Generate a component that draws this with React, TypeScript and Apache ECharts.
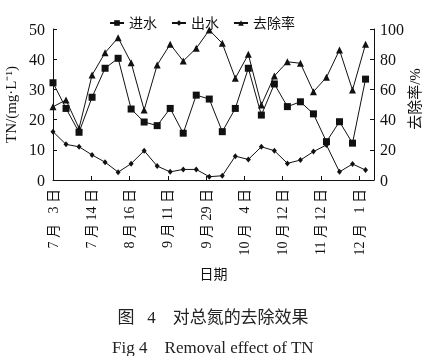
import React, { useEffect, useRef } from "react";
import * as echarts from "echarts";

const tickLabels = [
  "7 月 \u20073 日",
  "7 月 14 日",
  "8 月 16 日",
  "9 月 11 日",
  "9 月 29 日",
  "10 月 \u20074 日",
  "10 月 12 日",
  "11 月 12 日",
  "12 月 \u20071 日",
];

const influent = [
  32.2, 23.7, 15.8, 27.4, 37.0, 40.3, 23.5, 19.2, 18.0, 23.7, 15.5, 28.1, 26.8,
  16.0, 23.7, 37.0, 21.5, 31.8, 24.3, 25.9, 21.9, 12.7, 19.3, 12.2, 33.4,
];
const effluent = [
  16.0, 11.8, 11.0, 8.3, 5.9, 2.6, 5.4, 9.7, 4.6, 2.7, 3.5, 3.5, 1.1, 1.4, 7.9,
  6.8, 11.0, 9.7, 5.5, 6.6, 9.4, 11.6, 2.7, 5.3, 3.3,
];
const removal = [
  48.5, 53.0, 34.2, 69.5, 84.3, 94.2, 77.7, 46.4, 76.2, 89.9, 78.8, 87.2, 99.3,
  90.5, 67.4, 83.2, 49.7, 68.9, 78.3, 77.3, 58.5, 68.0, 86.1, 59.6, 89.9,
];

const TICK_STEP = 2.94;
const FONT = "'Liberation Serif', 'Noto Sans CJK SC', serif";

export default function App() {
  const ref = useRef<HTMLDivElement>(null);
  useEffect(() => {
    if (!ref.current) return;
    const chart = echarts.init(ref.current, null, { renderer: "svg" });
    const toPairs = (arr: number[]) => arr.map((v, i) => [i, v]);
    const lineStyle = { color: "#111", width: 1 };
    chart.setOption({
      animation: false,
      textStyle: { fontFamily: FONT, color: "#111" },
      legend: {
        left: 104,
        top: 11,
        itemWidth: 14,
        itemHeight: 7,
        itemGap: 14,
        textStyle: { fontFamily: FONT, fontSize: 14, color: "#111" },
        data: ["进水", "出水", "去除率"],
      },
      grid: {
        left: 53,
        right: 52,
        top: 29,
        bottom: 176,
        containLabel: false,
        outerBoundsMode: "none",
      },
      xAxis: {
        type: "value",
        min: 0,
        max: 24.65,
        interval: TICK_STEP,
        name: "日期",
        nameLocation: "middle",
        nameGap: 87,
        nameTextStyle: { fontFamily: FONT, fontSize: 14, color: "#111" },
        axisLine: { show: true, lineStyle: { color: "#111", width: 1 } },
        axisTick: { show: true, inside: true, length: 4, lineStyle: { color: "#111" } },
        splitLine: { show: false },
        axisLabel: {
          rotate: 90,
          margin: 9,
          fontFamily: FONT,
          fontSize: 14,
          color: "#111",
          showMaxLabel: false,
          formatter: (v: number) => {
            const k = Math.round(v / TICK_STEP);
            if (Math.abs(v - k * TICK_STEP) < 0.01 && k >= 0 && k < tickLabels.length) return tickLabels[k];
            return "";
          },
        },
      },
      yAxis: [
        {
          type: "value",
          min: 0,
          max: 50,
          interval: 10,
          name: "TN/(mg·L⁻¹)",
          nameLocation: "middle",
          nameRotate: 90,
          nameGap: 32,
          nameTextStyle: { fontFamily: FONT, fontSize: 15, color: "#111" },
          axisLine: { show: true, lineStyle: { color: "#111", width: 1 } },
          axisTick: { show: true, inside: true, length: 4, lineStyle: { color: "#111" } },
          splitLine: { show: false },
          axisLabel: { margin: 8, fontFamily: FONT, fontSize: 16, color: "#111" },
        },
        {
          type: "value",
          min: 0,
          max: 100,
          interval: 20,
          axisLine: { show: true, lineStyle: { color: "#111", width: 1 } },
          axisTick: { show: true, inside: true, length: 4, lineStyle: { color: "#111" } },
          splitLine: { show: false },
          axisLabel: { margin: 6, fontFamily: FONT, fontSize: 16, color: "#111" },
        },
      ],
      series: [
        {
          name: "进水",
          type: "line",
          yAxisIndex: 0,
          data: toPairs(influent),
          symbol: "rect",
          symbolSize: 7,
          itemStyle: { color: "#111" },
          lineStyle,
        },
        {
          name: "出水",
          type: "line",
          yAxisIndex: 0,
          data: toPairs(effluent),
          symbol: "diamond",
          symbolSize: [5, 6],
          itemStyle: { color: "#111" },
          lineStyle,
        },
        {
          name: "去除率",
          type: "line",
          yAxisIndex: 1,
          data: toPairs(removal),
          symbol: "triangle",
          symbolSize: 7,
          itemStyle: { color: "#111" },
          lineStyle,
        },
      ],
      graphic: [
        {
          type: "text",
          x: 415,
          y: 99,
          rotation: Math.PI / 2,
          style: {
            text: "去除率/%",
            fontFamily: FONT,
            fontSize: 15,
            fill: "#111",
            align: "center",
            verticalAlign: "middle",
          },
        },
        {
          type: "text",
          left: "center",
          top: 309,
          style: {
            text: "图   4    对总氮的去除效果",
            fontFamily: FONT,
            fontSize: 17,
            fill: "#222",
          },
        },
        {
          type: "text",
          left: "center",
          top: 339,
          style: {
            text: "Fig 4    Removal effect of TN",
            fontFamily: FONT,
            fontSize: 17,
            fill: "#222",
          },
        },
      ],
    });
    return () => chart.dispose();
  }, []);
  return (
    <div
      ref={ref}
      style={{ position: "fixed", left: 0, top: 0, width: 426, height: 356 }}
    />
  );
}
